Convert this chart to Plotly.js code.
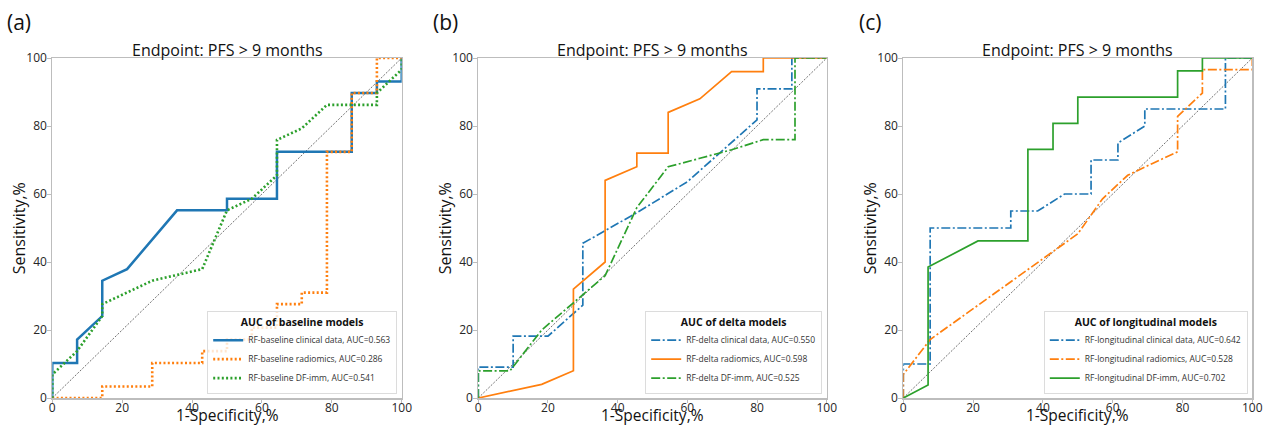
<!DOCTYPE html>
<html>
<head>
<meta charset="utf-8">
<script src="https://cdn.plot.ly/plotly-3.0.1.min.js"></script>
<style>html,body{margin:0;padding:0;background:#fff;}#chart{width:1269px;height:428px;}</style>
</head>
<body>
<div id="chart"></div>
<script>
// ---------- data ----------
var diagX = [0, 100];
var diagY = [0, 100];

// (a) baseline models
var aClinX = [0,0,7.1,7.1,14.3,14.3,21.4,35.7,50,50,64.3,64.3,85.7,85.7,92.9,92.9,100,100];
var aClinY = [0,10.3,10.3,17.2,24.1,34.5,37.9,55.2,55.2,58.6,58.6,72.4,72.4,89.7,89.7,93.1,93.1,100];
var aRadX = [0,14.3,14.3,28.6,28.6,42.9,42.9,50,50,57.1,57.1,64.3,64.3,71.4,71.4,78.6,78.6,85.7,85.7,92.9,92.9,100];
var aRadY = [0,0,3.4,3.4,10.3,10.3,13.8,13.8,17.2,17.2,20.7,20.7,27.6,27.6,31.0,31.0,72.4,72.4,89.7,89.7,100,100];
var aDfiX = [0,0,7.1,14.3,14.3,21.4,28.6,35.7,42.9,50,57.1,64.3,64.3,71.4,78.6,92.9,92.9,100,100];
var aDfiY = [0,6.9,13.8,24.1,27.6,31.0,34.5,36.2,37.9,55.2,58.6,65.5,75.9,79.3,86.2,86.2,89.7,96.6,100];

// (b) delta models
var bClinX = [0,0,10,10,20,30,30,45.5,60,80,80,90,90,100];
var bClinY = [0,9.1,9.1,18.2,18.2,27.3,45.5,54.5,63.6,81.8,90.9,90.9,100,100];
var bRadX = [0,18.2,27.3,27.3,36.4,36.4,45.5,45.5,54.5,54.5,63.6,72.7,81.8,81.8,100];
var bRadY = [0,4,8,32,40,64,68,72,72,84,88,96,96,100,100];
var bDfiX = [0,0,9.1,18.2,27.3,36.4,45.5,54.5,63.6,72.7,81.8,90.9,90.9,100];
var bDfiY = [0,8,8,20,28,36,56,68,70.5,73,76,76,100,100];

// (c) longitudinal models
var cClinX = [0,0,7.7,7.7,30.8,30.8,38.5,46.2,53.8,53.8,61.5,61.5,69.2,69.2,92.3,92.3,100];
var cClinY = [0,10,10,50,50,55,55,60,60,70,70,75,80,85,85,100,100];
var cRadX = [0,0,7.7,42.9,50,57.1,64.3,71.4,78.6,78.6,85.7,85.7,100,100];
var cRadY = [0,6.9,17.2,43.1,48.3,58.6,65.5,69,72.4,82.8,89.7,96.6,96.6,100];
var cDfiX = [0,7.1,7.1,21.4,35.7,35.7,42.9,42.9,50,50,78.6,78.6,85.7,85.7,100];
var cDfiY = [0,3.8,38.5,46.2,46.2,73.1,73.1,80.8,80.8,88.5,88.5,96.2,96.2,100,100];

var names = {
  a: ['RF-baseline clinical data, AUC=0.563','RF-baseline radiomics, AUC=0.286','RF-baseline DF-imm, AUC=0.541'],
  b: ['RF-delta clinical data, AUC=0.550','RF-delta radiomics, AUC=0.598','RF-delta DF-imm, AUC=0.525'],
  c: ['RF-longitudinal clinical data, AUC=0.642','RF-longitudinal radiomics, AUC=0.528','RF-longitudinal DF-imm, AUC=0.702']
};
var legendTitles = ['AUC of baseline models','AUC of delta models','AUC of longitudinal models'];
var panelLabels = ['(a)','(b)','(c)'];
var titleText = 'Endpoint: PFS &gt; 9 months';
var xTitle = '1-Specificity,%';
var yTitle = 'Sensitivity,%';
var tickVals = [0,20,40,60,80,100];

// ---------- styling ----------
var BLUE = '#1f77b4', ORANGE = '#ff7f0e', GREEN = '#2ca02c';
var DOT = '2px,2.3px';
var DASHDOT = '9px,2.5px,2px,2.5px';
var FONT = 'Open Sans, DejaVu Sans, sans-serif';

function diag(ax) {
  return {x: diagX, y: diagY, xaxis: 'x' + ax, yaxis: 'y' + ax, mode: 'lines', showlegend: false, hoverinfo: 'skip',
          line: {color: '#333', width: 0.7, dash: '2px,1.5px'}};
}
function tr(x, y, name, ax, leg, color, width, dash) {
  return {x: x, y: y, name: name, xaxis: 'x' + ax, yaxis: 'y' + ax, legend: leg, mode: 'lines',
          line: {color: color, width: width, dash: dash}};
}

var data = [
  diag(''), diag('2'), diag('3'),
  tr(aClinX, aClinY, names.a[0], '', 'legend', BLUE, 2.5, 'solid'),
  tr(aRadX, aRadY, names.a[1], '', 'legend', ORANGE, 2.6, DOT),
  tr(aDfiX, aDfiY, names.a[2], '', 'legend', GREEN, 2.6, DOT),
  tr(bClinX, bClinY, names.b[0], '2', 'legend2', BLUE, 1.7, DASHDOT),
  tr(bRadX, bRadY, names.b[1], '2', 'legend2', ORANGE, 1.7, 'solid'),
  tr(bDfiX, bDfiY, names.b[2], '2', 'legend2', GREEN, 1.7, DASHDOT),
  tr(cClinX, cClinY, names.c[0], '3', 'legend3', BLUE, 1.7, DASHDOT),
  tr(cRadX, cRadY, names.c[1], '3', 'legend3', ORANGE, 1.7, DASHDOT),
  tr(cDfiX, cDfiY, names.c[2], '3', 'legend3', GREEN, 1.7, 'solid')
];

var W = 1269, H = 428;
var plotL = [52.3, 478.3, 903.3];
var plotR = [401.7, 826.7, 1252.3];
var plotT = 58, plotB = 398;

function axis(i, isX) {
  var a = {
    range: [0, 100], autorange: false, fixedrange: true,
    tickvals: tickVals, ticktext: tickVals.map(String),
    ticks: 'outside', ticklen: 3.5, tickwidth: 1, tickcolor: '#bdbdbd',
    showline: true, linecolor: '#bdbdbd', linewidth: 1.5, mirror: true,
    showgrid: false, zeroline: false,
    tickfont: {family: FONT, size: 12, color: '#262626'}
  };
  if (isX) {
    a.domain = [plotL[i] / W, plotR[i] / W];
    a.anchor = 'y' + (i ? i + 1 : '');
    a.ticklabelstandoff = -5;
  } else {
    a.domain = [1 - plotB / H, 1 - plotT / H];
    a.anchor = 'x' + (i ? i + 1 : '');
    a.ticklabelstandoff = -2;
  }
  return a;
}

function legend(i) {
  return {
    x: (plotR[i] - 4.5) / W, y: 1 - 394 / H, xanchor: 'right', yanchor: 'bottom',
    bgcolor: 'rgba(255,255,255,0.8)', bordercolor: '#dcdcdc', borderwidth: 1,
    font: {family: FONT, size: 8.5, color: '#333'},
    title: {text: '<b>' + legendTitles[i] + '</b>', side: 'top center', font: {family: FONT, size: 10.5, color: '#111'}},
    tracegroupgap: 0, itemwidth: 30
  };
}

var annotations = [];
for (var i = 0; i < 3; i++) {
  var cx = (plotL[i] + plotR[i]) / 2;
  annotations.push({text: titleText, xref: 'paper', yref: 'paper', x: cx / W, y: 1 - 50 / H,
    xanchor: 'center', yanchor: 'middle', showarrow: false, font: {family: FONT, size: 16, color: '#111'}});
  annotations.push({text: xTitle, xref: 'paper', yref: 'paper', x: cx / W, y: 0,
    xanchor: 'center', yanchor: 'bottom', showarrow: false, font: {family: FONT, size: 15.5, color: '#111'}});
  annotations.push({text: yTitle, xref: 'paper', yref: 'paper', x: (plotL[i] - 33) / W, y: 1 - 228 / H,
    xanchor: 'center', yanchor: 'middle', textangle: -90, showarrow: false, font: {family: FONT, size: 16, color: '#111'}});
  annotations.push({text: panelLabels[i], xref: 'paper', yref: 'paper', x: (plotL[i] - 33) / W, y: 1 - 22 / H,
    xanchor: 'center', yanchor: 'middle', showarrow: false, font: {family: FONT, size: 21, color: '#111'}});
}

var layout = {
  width: W, height: H, margin: {l: 0, r: 0, t: 0, b: 0},
  paper_bgcolor: '#fff', plot_bgcolor: '#fff',
  xaxis: axis(0, true), yaxis: axis(0, false),
  xaxis2: axis(1, true), yaxis2: axis(1, false),
  xaxis3: axis(2, true), yaxis3: axis(2, false),
  legend: legend(0), legend2: legend(1), legend3: legend(2),
  annotations: annotations,
  showlegend: true
};

Plotly.newPlot('chart', data, layout, {displayModeBar: false, staticPlot: true});
</script>
</body>
</html>
